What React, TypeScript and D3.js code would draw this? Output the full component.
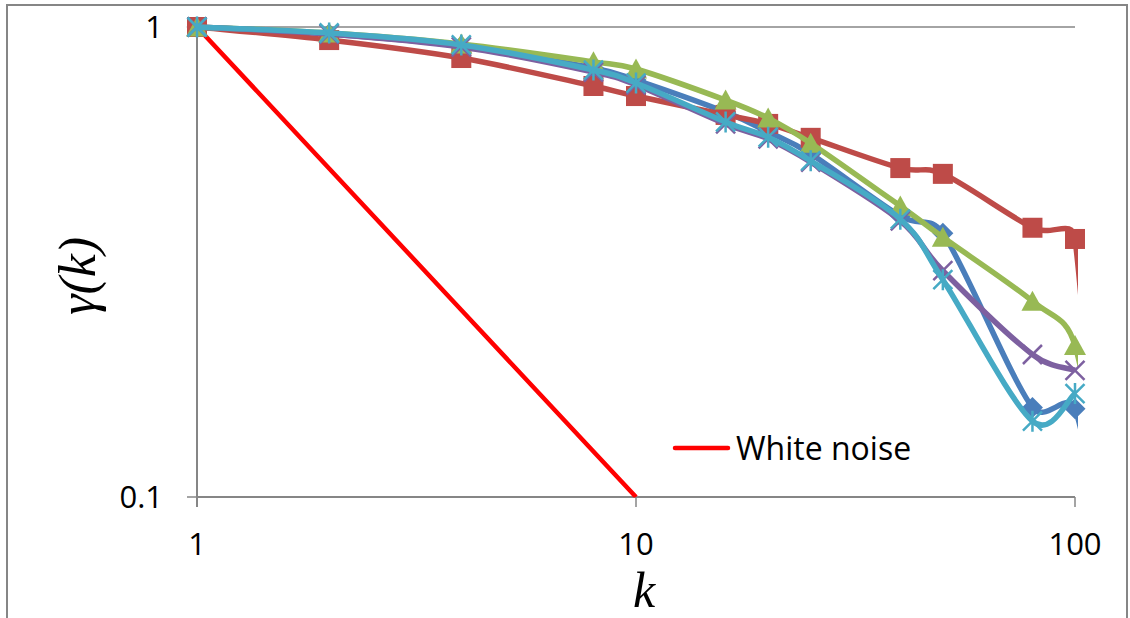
import React from "react";
import * as d3 from "d3";

// ---- data ----
const kValues = [1, 2, 4, 8, 10, 16, 20, 25, 40, 50, 80, 100];
const tailK = 128; // point beyond the axis, clipped (visible only as a short tail)

const blueValues = [1, 0.966, 0.911, 0.818, 0.771, 0.659, 0.598, 0.537, 0.396, 0.364, 0.155, 0.154];
const blueTail = 0.045;
const redValues = [1, 0.938, 0.859, 0.749, 0.713, 0.65, 0.622, 0.581, 0.501, 0.487, 0.374, 0.354];
const redTail = 0.012;
const greenValues = [1, 0.971, 0.92, 0.843, 0.814, 0.699, 0.64, 0.566, 0.416, 0.357, 0.261, 0.21];
const greenTail = 0.06;
const purpleValues = [1, 0.966, 0.907, 0.802, 0.753, 0.622, 0.578, 0.516, 0.387, 0.303, 0.201, 0.186];
const cyanValues = [1, 0.971, 0.916, 0.81, 0.76, 0.628, 0.583, 0.519, 0.39, 0.29, 0.145, 0.166];

const whiteNoiseK = [1, 2, 4, 8, 10];
const whiteNoiseValues = [1, 0.5, 0.25, 0.125, 0.1];

const xTicks = [1, 10, 100];
const xTickLabels = ["1", "10", "100"];
const yTicks = [0.1, 1];
const yTickLabels = ["0.1", "1"];
const legendLabel = "White noise";

// ---- layout ----
const W = 1130;
const H = 618;
const X0 = 197;
const X1 = 1075;
const Y0 = 497;
const Y1 = 27;
const axisColor = "#868686";
const tickFont = "'Open Sans', sans-serif";

const x = d3.scaleLog().domain([1, 100]).range([X0, X1]);
const y = d3.scaleLog().domain([0.1, 1]).range([Y0, Y1]);

type Pt = [number, number];

// Excel-like smoothed line: Bezier with tangents (P[i+1]-P[i-1])/6, capped at half the segment
function smoothPath(pts: Pt[]): string {
  if (pts.length < 2) return "";
  let d = `M${pts[0][0]},${pts[0][1]}`;
  for (let i = 0; i < pts.length - 1; i++) {
    const p0 = pts[i - 1] || pts[i];
    const p1 = pts[i];
    const p2 = pts[i + 1];
    const p3 = pts[i + 2] || p2;
    const seg = Math.hypot(p2[0] - p1[0], p2[1] - p1[1]);
    const t1x = p2[0] - p0[0], t1y = p2[1] - p0[1];
    const l1 = Math.hypot(t1x, t1y);
    const s1 = Math.min(l1 / 6, seg / 2);
    const c1: Pt = l1 > 0 ? [p1[0] + (t1x / l1) * s1, p1[1] + (t1y / l1) * s1] : p1;
    const t2x = p3[0] - p1[0], t2y = p3[1] - p1[1];
    const l2 = Math.hypot(t2x, t2y);
    const s2 = Math.min(l2 / 6, seg / 2);
    const c2: Pt = l2 > 0 ? [p2[0] - (t2x / l2) * s2, p2[1] - (t2y / l2) * s2] : p2;
    d += `C${c1[0]},${c1[1]},${c2[0]},${c2[1]},${p2[0]},${p2[1]}`;
  }
  return d;
}

type Marker = "diamond" | "square" | "triangle" | "x" | "star";
interface Series {
  name: string;
  values: number[];
  tail?: number;
  color: string;
  marker: Marker;
}

const series: Series[] = [
  { name: "blue", values: blueValues, tail: blueTail, color: "#4A7EBB", marker: "diamond" },
  { name: "red", values: redValues, tail: redTail, color: "#BE4B48", marker: "square" },
  { name: "green", values: greenValues, tail: greenTail, color: "#98B954", marker: "triangle" },
  { name: "purple", values: purpleValues, color: "#7D60A0", marker: "x" },
  { name: "cyan", values: cyanValues, color: "#46AAC5", marker: "star" },
];

function MarkerShape({ type, cx, cy, color }: { type: Marker; cx: number; cy: number; color: string }) {
  const s = 10.5;
  switch (type) {
    case "square":
      return <rect x={cx - 10} y={cy - 10} width={20} height={20} fill={color} />;
    case "diamond":
      return (
        <path d={`M${cx},${cy - s}L${cx + s},${cy}L${cx},${cy + s}L${cx - s},${cy}Z`} fill={color} />
      );
    case "triangle":
      return (
        <path d={`M${cx},${cy - 10.5}L${cx + 11},${cy + 9.5}L${cx - 11},${cy + 9.5}Z`} fill={color} />
      );
    case "x":
      return (
        <path
          d={`M${cx - 9.5},${cy - 9.5}L${cx + 9.5},${cy + 9.5}M${cx - 9.5},${cy + 9.5}L${cx + 9.5},${cy - 9.5}`}
          stroke={color}
          strokeWidth={2.5}
          fill="none"
        />
      );
    case "star":
      return (
        <path
          d={`M${cx - 9.5},${cy - 9.5}L${cx + 9.5},${cy + 9.5}M${cx - 9.5},${cy + 9.5}L${cx + 9.5},${cy - 9.5}M${cx},${cy - 10.5}L${cx},${cy + 10.5}`}
          stroke={color}
          strokeWidth={2.5}
          fill="none"
        />
      );
  }
}

export default function App() {
  const wnPts: Pt[] = whiteNoiseK.map((k, i) => [x(k), y(whiteNoiseValues[i])]);
  const wnLine = d3.line()(wnPts) || "";

  return (
    <svg
      width={W}
      height={H}
      style={{ position: "absolute", left: 0, top: 0, background: "#fff" }}
    >
      <defs>
        <clipPath id="plotClip">
          <rect x={150} y={0} width={1078 - 150} height={Y0 + 0.5} />
        </clipPath>
      </defs>
      <rect x={7} y={5} width={1120} height={800} fill="#fff" stroke={axisColor} strokeWidth={2} />

      {/* gridline at 1 */}
      <line x1={X0} x2={X1} y1={y(1)} y2={y(1)} stroke={axisColor} strokeWidth={1.5} />

      {/* axes */}
      <line x1={X0} x2={X0} y1={Y1} y2={Y0 + 10} stroke={axisColor} strokeWidth={2} />
      <line x1={X0} x2={X1} y1={Y0} y2={Y0} stroke={axisColor} strokeWidth={2} />
      {yTicks.map((t) => (
        <line key={"yt" + t} x1={X0 - 10} x2={X0} y1={y(t)} y2={y(t)} stroke={axisColor} strokeWidth={1.5} />
      ))}
      {xTicks.map((t) => (
        <line key={"xt" + t} x1={x(t)} x2={x(t)} y1={Y0} y2={Y0 + 10} stroke={axisColor} strokeWidth={1.5} />
      ))}

      {/* tick labels */}
      {yTicks.map((t, i) => (
        <text
          key={"yl" + t}
          x={163}
          y={y(t) + 11}
          textAnchor="end"
          fontFamily={tickFont}
          fontSize={31}
          fill="#000"
        >
          {yTickLabels[i]}
        </text>
      ))}
      {xTicks.map((t, i) => (
        <text
          key={"xl" + t}
          x={x(t)}
          y={555}
          textAnchor="middle"
          fontFamily={tickFont}
          fontSize={31}
          fill="#000"
        >
          {xTickLabels[i]}
        </text>
      ))}

      {/* axis titles */}
      <text
        transform="translate(95,276) rotate(-90)"
        textAnchor="middle"
        fontFamily="'Liberation Serif', 'Times New Roman', serif"
        fontStyle="italic"
        fontSize={52}
        fill="#000"
      >
        γ(k)
      </text>
      <text
        x={644}
        y={607}
        textAnchor="middle"
        fontFamily="'Liberation Serif', 'Times New Roman', serif"
        fontStyle="italic"
        fontSize={50}
        fill="#000"
      >
        k
      </text>

      {/* white noise */}
      <g clipPath="url(#plotClip)">
        <path d={wnLine} fill="none" stroke="#FF0000" strokeWidth={4.5} />
      </g>

      {/* series */}
      {series.map((s) => {
        const pts: Pt[] = kValues.map((k, i) => [x(k), y(s.values[i])]);
        const linePts: Pt[] = s.tail !== undefined ? [...pts, [x(tailK), y(s.tail)]] : pts;
        return (
          <g key={s.name}>
            <g clipPath="url(#plotClip)">
              <path d={smoothPath(linePts)} fill="none" stroke={s.color} strokeWidth={5.5} strokeLinejoin="round" />
            </g>
            {pts.map((p, i) => (
              <MarkerShape key={i} type={s.marker} cx={p[0]} cy={p[1]} color={s.color} />
            ))}
          </g>
        );
      })}

      {/* legend */}
      <line x1={675} x2={728} y1={448} y2={448} stroke="#FF0000" strokeWidth={4.5} strokeLinecap="round" />
      <text x={736} y={460} fontFamily={tickFont} fontSize={32} fill="#000">
        {legendLabel}
      </text>
    </svg>
  );
}
